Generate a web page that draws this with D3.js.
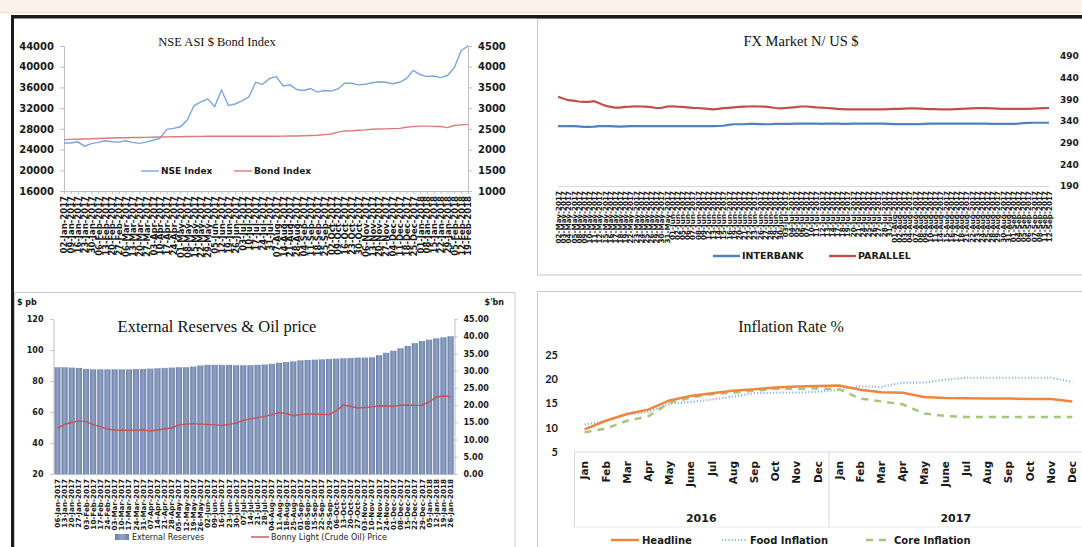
<!DOCTYPE html>
<html>
<head>
<meta charset="utf-8">
<script src="https://cdn.jsdelivr.net/npm/d3@7"></script>
<style>
  body { margin: 0; background: #fff; }
  svg { display: block; }
</style>
</head>
<body>
<svg id="page" width="1082" height="547"></svg>
<script>
// ---- NSE ASI & Bond index (weekly) ----
var nseDates = ("02-Jan-2017 09-Jan-2017 16-Jan-2017 23-Jan-2017 30-Jan-2017 06-Feb-2017 13-Feb-2017 20-Feb-2017 27-Feb-2017 " +
  "06-Mar-2017 13-Mar-2017 20-Mar-2017 27-Mar-2017 03-Apr-2017 10-Apr-2017 17-Apr-2017 24-Apr-2017 01-May-2017 08-May-2017 " +
  "15-May-2017 22-May-2017 29-May-2017 05-Jun-2017 12-Jun-2017 19-Jun-2017 26-Jun-2017 03-Jul-2017 10-Jul-2017 17-Jul-2017 " +
  "24-Jul-2017 31-Jul-2017 07-Aug-2017 14-Aug-2017 21-Aug-2017 28-Aug-2017 04-Sep-2017 11-Sep-2017 18-Sep-2017 25-Sep-2017 " +
  "02-Oct-2017 09-Oct-2017 16-Oct-2017 23-Oct-2017 30-Oct-2017 06-Nov-2017 13-Nov-2017 20-Nov-2017 27-Nov-2017 04-Dec-2017 " +
  "11-Dec-2017 18-Dec-2017 25-Dec-2017 01-Jan-2018 08-Jan-2018 15-Jan-2018 22-Jan-2018 29-Jan-2018 05-Feb-2018 12-Feb-2018 19-Feb-2018").split(" ");
var nseIndex = [25270, 25270, 25500, 24650, 25150, 25400, 25700, 25500, 25450, 25700,
  25400, 25200, 25450, 25800, 26150, 27900, 28100, 28400, 29700, 32500,
  33200, 33800, 32300, 35500, 32500, 32800, 33400, 34200, 37000, 36600,
  37700, 38100, 36300, 36500, 35600, 35400, 35800, 35100, 35400, 35300,
  35700, 36800, 36800, 36500, 36600, 36900, 37100, 37000, 36700, 37000,
  37700, 39300, 38500, 38100, 38200, 37900, 38300, 39800, 43100, 44000];
var bondIndex = [2241, 2245, 2250, 2256, 2262, 2268, 2275, 2280, 2284, 2287,
  2290, 2292, 2295, 2298, 2302, 2306, 2308, 2311, 2314, 2316,
  2318, 2322, 2322, 2322, 2322, 2322, 2322, 2322, 2322, 2322,
  2322, 2322, 2324, 2326, 2328, 2332, 2338, 2346, 2362, 2375,
  2420, 2450, 2455, 2465, 2475, 2490, 2495, 2500, 2505, 2512,
  2540, 2555, 2567, 2565, 2560, 2558, 2530, 2580, 2595, 2608];
var nseTicks = [16000, 20000, 24000, 28000, 32000, 36000, 40000, 44000];
var bondTicks = [1000, 1500, 2000, 2500, 3000, 3500, 4000, 4500];

// ---- FX market N/US$ (daily) ----
var fxDates = ("02-May-2017 03-May-2017 04-May-2017 05-May-2017 08-May-2017 09-May-2017 10-May-2017 11-May-2017 12-May-2017 " +
  "15-May-2017 16-May-2017 17-May-2017 18-May-2017 19-May-2017 22-May-2017 23-May-2017 24-May-2017 25-May-2017 26-May-2017 " +
  "29-May-2017 30-May-2017 31-May-2017 01-Jun-2017 02-Jun-2017 05-Jun-2017 06-Jun-2017 07-Jun-2017 08-Jun-2017 09-Jun-2017 " +
  "12-Jun-2017 13-Jun-2017 14-Jun-2017 15-Jun-2017 16-Jun-2017 19-Jun-2017 20-Jun-2017 21-Jun-2017 22-Jun-2017 23-Jun-2017 " +
  "26-Jun-2017 27-Jun-2017 28-Jun-2017 29-Jun-2017 30-Jun-2017 03-Jul-2017 04-Jul-2017 05-Jul-2017 06-Jul-2017 07-Jul-2017 " +
  "10-Jul-2017 11-Jul-2017 12-Jul-2017 13-Jul-2017 14-Jul-2017 17-Jul-2017 18-Jul-2017 19-Jul-2017 20-Jul-2017 21-Jul-2017 " +
  "24-Jul-2017 25-Jul-2017 26-Jul-2017 27-Jul-2017 28-Jul-2017 31-Jul-2017 01-Aug-2017 02-Aug-2017 03-Aug-2017 04-Aug-2017 " +
  "07-Aug-2017 08-Aug-2017 09-Aug-2017 10-Aug-2017 11-Aug-2017 14-Aug-2017 15-Aug-2017 16-Aug-2017 17-Aug-2017 18-Aug-2017 " +
  "21-Aug-2017 22-Aug-2017 23-Aug-2017 24-Aug-2017 25-Aug-2017 28-Aug-2017 29-Aug-2017 30-Aug-2017 31-Aug-2017 01-Sep-2017 " +
  "04-Sep-2017 05-Sep-2017 06-Sep-2017 07-Sep-2017 08-Sep-2017 11-Sep-2017 12-Sep-2017").split(" ");
var fxParallel = [396, 392, 388, 387, 385, 384, 384, 386, 381, 376,
  373, 371, 371, 372.5, 373, 374, 373.5, 373, 372, 370,
  370, 373, 374, 373, 372.5, 371.5, 370.5, 370, 369, 368,
  367, 368, 369.5, 370.5, 371.5, 372.5, 373, 373.5, 374, 373.5,
  373, 372, 370, 369, 370, 371, 372, 373.5, 373.5, 372.5,
  371.5, 371, 370, 369, 368, 367.5, 367, 367, 367, 367,
  367, 367, 367, 367, 367.5, 368, 368, 368.5, 369, 369,
  368.5, 368, 367.5, 367.5, 367, 367, 367, 367.5, 368, 368.5,
  369, 369.5, 369.5, 369.5, 369, 368.5, 368, 368, 368, 368,
  368, 368, 368.5, 369, 369.5, 370];
var fxInterbank = [328, 328, 328, 328, 327.5, 326.5, 326.5, 327, 328, 328,
  328, 327.5, 327, 327.5, 328, 328, 328, 328, 328, 328,
  328, 328, 328, 328, 328, 328, 328, 328, 328, 328,
  328, 328.5, 329, 331, 332.5, 332.5, 332.5, 333.5, 333.5, 333,
  332.5, 332.5, 333.5, 333.5, 333.5, 333.5, 334, 334, 334, 334,
  334, 333.5, 334, 334, 334, 333.5, 333.5, 334, 334, 334,
  334, 334, 334, 334, 333.5, 333, 332.6, 332.6, 332.6, 332.6,
  333, 333.5, 334, 334, 334, 334, 334, 334, 334, 334,
  334, 334, 334, 334, 333.5, 333.5, 333.5, 333.5, 333.5, 334,
  335, 335.5, 336, 336, 336, 336];
var fxTicks = [190, 240, 290, 340, 390, 440, 490];

// ---- External reserves & oil price (weekly) ----
var resDates = ("06-Jan-2017 13-Jan-2017 20-Jan-2017 27-Jan-2017 03-Feb-2017 10-Feb-2017 17-Feb-2017 24-Feb-2017 03-Mar-2017 " +
  "10-Mar-2017 17-Mar-2017 24-Mar-2017 31-Mar-2017 07-Apr-2017 14-Apr-2017 21-Apr-2017 28-Apr-2017 05-May-2017 12-May-2017 " +
  "19-May-2017 26-May-2017 02-Jun-2017 09-Jun-2017 16-Jun-2017 23-Jun-2017 30-Jun-2017 07-Jul-2017 14-Jul-2017 21-Jul-2017 " +
  "28-Jul-2017 04-Aug-2017 11-Aug-2017 18-Aug-2017 25-Aug-2017 01-Sep-2017 08-Sep-2017 15-Sep-2017 22-Sep-2017 29-Sep-2017 " +
  "06-Oct-2017 13-Oct-2017 20-Oct-2017 27-Oct-2017 03-Nov-2017 10-Nov-2017 17-Nov-2017 24-Nov-2017 01-Dec-2017 08-Dec-2017 " +
  "15-Dec-2017 22-Dec-2017 29-Dec-2017 05-Jan-2018 12-Jan-2018 19-Jan-2018 26-Jan-2018").split(" ");
var reserves = [31.0, 31.0, 30.9, 30.8, 30.5, 30.4, 30.4, 30.4, 30.4, 30.4,
  30.4, 30.5, 30.5, 30.6, 30.7, 30.8, 30.9, 31.0, 31.0, 31.2,
  31.5, 31.7, 31.7, 31.7, 31.7, 31.6, 31.6, 31.6, 31.7, 31.8,
  32.0, 32.3, 32.5, 32.7, 33.0, 33.1, 33.2, 33.3, 33.4, 33.5,
  33.6, 33.7, 33.8, 33.8, 33.9, 34.5, 35.2, 35.8, 36.5, 37.2,
  38.0, 38.6, 39.0, 39.4, 39.7, 40.0];
var oilPrice = [49.5, 52.1, 53.2, 54.3, 53.8, 51.8, 50.6, 49.0, 48.4, 48.2,
  48.2, 48.3, 48.5, 47.7, 48.4, 49.2, 49.7, 51.7, 52.2, 52.5,
  52.2, 52.0, 51.7, 51.3, 52.0, 52.8, 54.6, 55.6, 56.4, 57.2,
  58.3, 59.7, 59.0, 57.6, 58.3, 58.8, 58.7, 58.5, 58.3, 60.7,
  64.5, 63.7, 62.6, 62.9, 63.3, 64.0, 63.9, 63.7, 64.4, 64.5,
  64.3, 64.4, 66.5, 69.5, 70.3, 70.0];
var oilTicks = [20, 40, 60, 80, 100, 120];
var resTicks = [0, 5, 10, 15, 20, 25, 30, 35, 40, 45];

// ---- Inflation rate % (monthly) ----
var months = ["Jan", "Feb", "Mar", "Apr", "May", "June", "Jul", "Aug", "Sep", "Oct", "Nov", "Dec"];
var years = ["2016", "2017"];
var headline = [9.6, 11.4, 12.8, 13.7, 15.6, 16.5, 17.1, 17.6, 17.9, 18.3, 18.5, 18.6,
  18.7, 17.8, 17.3, 17.2, 16.3, 16.1, 16.05, 16.0, 16.0, 15.9, 15.9, 15.4];
var foodInfl = [10.6, 11.4, 12.7, 13.2, 14.9, 15.3, 15.8, 16.4, 17.1, 17.2, 17.2, 17.4,
  17.8, 18.5, 18.4, 19.3, 19.3, 19.9, 20.3, 20.3, 20.3, 20.3, 20.3, 19.4];
var coreInfl = [9.0, 9.8, 11.4, 12.3, 15.1, 16.2, 16.9, 17.2, 17.6, 18.0, 18.0, 18.1,
  17.9, 16.0, 15.4, 14.8, 12.9, 12.4, 12.2, 12.2, 12.2, 12.2, 12.2, 12.2];
var inflTicks = [5, 10, 15, 20, 25];

var SANS = "'DejaVu Sans', sans-serif",
    SERIF = "'Liberation Serif', 'Times New Roman', serif";

var svg = d3.select("#page");

// style a d3 axis group
function styleAxis(g, size, font, weight) {
    g.attr("font-family", font || SANS).attr("font-size", size);
    g.selectAll("text").attr("fill", "#1a1a1a").attr("font-weight", weight || "bold");
    g.selectAll("line").attr("stroke", "#bfbfbf");
    g.select(".domain").attr("stroke", "#bfbfbf");
    return g;
}

// dense rotated date labels under a category axis
function dateLabels(g, size, gap) {
    g.selectAll(".tick text")
        .attr("transform", "rotate(-90)")
        .attr("text-anchor", "end")
        .attr("x", -gap)
        .attr("y", 0)
        .attr("dy", "0.35em")
        .attr("font-size", size);
}

function legendLine(g, x, y, w, color, width, dash) {
    g.append("line").attr("x1", x).attr("x2", x + w).attr("y1", y).attr("y2", y)
        .attr("stroke", color).attr("stroke-width", width).attr("stroke-dasharray", dash || null);
}

function legendText(g, x, y, txt, size, weight) {
    g.append("text").attr("x", x).attr("y", y).attr("dy", "0.35em")
        .attr("font-family", SANS).attr("font-size", size).attr("font-weight", weight || "bold")
        .attr("fill", "#1a1a1a").text(txt);
}

// ---- page frame ----
svg.append("rect").attr("x", 0).attr("y", 0).attr("width", 1082).attr("height", 12).attr("fill", "#fdf2ea");
svg.append("line").attr("x1", 0).attr("x2", 1082).attr("y1", 12.5).attr("y2", 12.5).attr("stroke", "#f7dcc7");

[[537.5, 18.5, 560, 256.5], [14.5, 292.5, 500.5, 270], [537.5, 291.5, 560, 270]].forEach(function(p) {
    svg.append("rect").attr("x", p[0]).attr("y", p[1]).attr("width", p[2]).attr("height", p[3])
        .attr("fill", "#fff").attr("stroke", "#c9c9c9");
});
svg.append("rect").attr("x", 11).attr("y", 15).attr("width", 1071).attr("height", 3.5).attr("fill", "#1b1b1b");
svg.append("rect").attr("x", 11).attr("y", 15).attr("width", 3).attr("height", 532).attr("fill", "#1b1b1b");

// ================= chart 1: NSE ASI & Bond Index =================
var c1 = svg.append("g");
var x1 = d3.scalePoint().domain(nseDates).range([64, 468]),
    y1L = d3.scaleLinear().domain([16000, 44000]).range([191, 46]),
    y1R = d3.scaleLinear().domain([1000, 4500]).range([191, 46]);

styleAxis(c1.append("g").attr("transform", "translate(64,0)")
    .call(d3.axisLeft(y1L).tickValues(nseTicks).tickFormat(d3.format("d")).tickSize(4).tickPadding(6).tickSizeOuter(0)), 10);
styleAxis(c1.append("g").attr("transform", "translate(468,0)")
    .call(d3.axisRight(y1R).tickValues(bondTicks).tickFormat(d3.format("d")).tickSize(4).tickPadding(6).tickSizeOuter(0)), 10);
var ax1 = styleAxis(c1.append("g").attr("transform", "translate(0,191)")
    .call(d3.axisBottom(x1).tickSize(3).tickSizeOuter(0)), 8.5);
dateLabels(ax1, 8.5, 5);

c1.append("path").datum(nseIndex)
    .attr("fill", "none").attr("stroke", "#7ea6d8").attr("stroke-width", 1.4)
    .attr("d", d3.line().x(function(d, i) { return x1(nseDates[i]); }).y(function(d) { return y1L(d); }));
c1.append("path").datum(bondIndex)
    .attr("fill", "none").attr("stroke", "#dc7b7d").attr("stroke-width", 1.4)
    .attr("d", d3.line().x(function(d, i) { return x1(nseDates[i]); }).y(function(d) { return y1R(d); }));

c1.append("text").attr("x", 217).attr("y", 46).attr("text-anchor", "middle")
    .attr("font-family", SERIF).attr("font-size", 12.5).attr("fill", "#111").text("NSE ASI $ Bond Index");
legendLine(c1, 141, 171, 18, "#7ea6d8", 1.4);
legendText(c1, 161, 171, "NSE Index", 9);
legendLine(c1, 234, 171, 18, "#dc7b7d", 1.4);
legendText(c1, 254, 171, "Bond Index", 9);

// ================= chart 2: FX market =================
var c2 = svg.append("g");
var x2 = d3.scalePoint().domain(fxDates).range([558, 1049]),
    y2 = d3.scaleLinear().domain([190, 490]).range([186, 56]);

// right-hand labels sit against the page edge
var ax2r = styleAxis(c2.append("g").attr("transform", "translate(1060,0)")
    .call(d3.axisRight(y2).tickValues(fxTicks).tickSize(0).tickPadding(0)), 9);
ax2r.select(".domain").remove();
var ax2 = styleAxis(c2.append("g").attr("transform", "translate(0,186)")
    .call(d3.axisBottom(x2).tickSize(0).tickSizeOuter(0)), 7.2);
ax2.select(".domain").attr("stroke", "#d9d9d9");
dateLabels(ax2, 7.2, 5);

[[fxInterbank, "#4f81bd"], [fxParallel, "#c0504d"]].forEach(function(s) {
    c2.append("path").datum(s[0])
        .attr("fill", "none").attr("stroke", s[1]).attr("stroke-width", 2.2)
        .attr("d", d3.line().x(function(d, i) { return x2(fxDates[i]); }).y(function(d) { return y2(d); }));
});

c2.append("text").attr("x", 801).attr("y", 46).attr("text-anchor", "middle")
    .attr("font-family", SERIF).attr("font-size", 14.5).attr("fill", "#111").text("FX Market N/ US $");
legendLine(c2, 713, 256, 27, "#4f81bd", 2.4);
legendText(c2, 742, 256, "INTERBANK", 9.5);
legendLine(c2, 829, 256, 27, "#c0504d", 2.4);
legendText(c2, 858, 256, "PARALLEL", 9.5);

// ================= chart 3: External reserves & oil price =================
var c3 = svg.append("g");
var defs = svg.append("defs");
var grad = defs.append("linearGradient").attr("id", "barGrad").attr("x1", 0).attr("x2", 1).attr("y1", 0).attr("y2", 0);
grad.append("stop").attr("offset", "0%").attr("stop-color", "#6a7ea8");
grad.append("stop").attr("offset", "50%").attr("stop-color", "#93a4c5");
grad.append("stop").attr("offset", "100%").attr("stop-color", "#6a7ea8");

var x3 = d3.scaleBand().domain(resDates).range([54, 454]).paddingInner(0.14).paddingOuter(0.05),
    y3L = d3.scaleLinear().domain([20, 120]).range([474, 319]),
    y3R = d3.scaleLinear().domain([0, 45]).range([474, 319]);

c3.selectAll("rect.bar").data(reserves).enter().append("rect")
    .attr("class", "bar")
    .attr("x", function(d, i) { return x3(resDates[i]); })
    .attr("width", x3.bandwidth())
    .attr("y", function(d) { return y3R(d); })
    .attr("height", function(d) { return y3R(0) - y3R(d); })
    .attr("fill", "url(#barGrad)");

c3.append("path").datum(oilPrice)
    .attr("fill", "none").attr("stroke", "#c94f55").attr("stroke-width", 1.4)
    .attr("d", d3.line().x(function(d, i) { return x3(resDates[i]) + x3.bandwidth() / 2; })
        .y(function(d) { return y3L(d); }));

styleAxis(c3.append("g").attr("transform", "translate(53.5,0)")
    .call(d3.axisLeft(y3L).tickValues(oilTicks).tickSize(3).tickPadding(7).tickSizeOuter(0)), 8);
styleAxis(c3.append("g").attr("transform", "translate(454.5,0)")
    .call(d3.axisRight(y3R).tickValues(resTicks).tickFormat(d3.format(".2f")).tickSize(3).tickPadding(6).tickSizeOuter(0)), 8);
var ax3 = styleAxis(c3.append("g").attr("transform", "translate(0,474)")
    .call(d3.axisBottom(x3).tickSize(0).tickSizeOuter(0)), 7.2);
dateLabels(ax3, 7.2, 5);

c3.append("text").attr("x", 17).attr("y", 302).attr("dy", "0.35em")
    .attr("font-family", SANS).attr("font-size", 8).attr("font-weight", "bold").attr("fill", "#1a1a1a").text("$ pb");
c3.append("text").attr("x", 504).attr("y", 302).attr("dy", "0.35em").attr("text-anchor", "end")
    .attr("font-family", SANS).attr("font-size", 8).attr("font-weight", "bold").attr("fill", "#1a1a1a").text("$'bn");
c3.append("text").attr("x", 217).attr("y", 332).attr("text-anchor", "middle")
    .attr("font-family", SERIF).attr("font-size", 16.5).attr("fill", "#111").text("External Reserves & Oil price");

c3.append("rect").attr("x", 115).attr("y", 534).attr("width", 14).attr("height", 6).attr("fill", "url(#barGrad)");
legendText(c3, 132, 537, "External Reserves", 8, "normal");
legendLine(c3, 251, 537, 18, "#c94f55", 1.4);
legendText(c3, 271, 537, "Bonny Light (Crude Oil) Price", 8, "normal");

// ================= chart 4: Inflation rate =================
var c4 = svg.append("g");
var inflCats = [];
years.forEach(function(y) { months.forEach(function(m) { inflCats.push(m + " " + y); }); });

var x4 = d3.scaleBand().domain(inflCats).range([574, 1083]),
    y4 = d3.scaleLinear().domain([5, 25]).range([451.7, 355]);

var ax4l = styleAxis(c4.append("g").attr("transform", "translate(558,0)")
    .call(d3.axisLeft(y4).tickValues(inflTicks).tickSize(0).tickPadding(0)), 11, "Lato, sans-serif");
ax4l.select(".domain").remove();

// two-level category axis
c4.append("line").attr("x1", 574).attr("x2", 1082).attr("y1", 452).attr("y2", 452).attr("stroke", "#d9d9d9");
c4.append("line").attr("x1", 574).attr("x2", 1082).attr("y1", 527).attr("y2", 527).attr("stroke", "#ececec");
years.forEach(function(y, k) {
    var x0 = x4(months[0] + " " + y);
    c4.append("line").attr("x1", x0 + 0.5).attr("x2", x0 + 0.5).attr("y1", 452).attr("y2", 527).attr("stroke", "#d9d9d9");
    c4.append("text").attr("x", x0 + x4.step() * 6).attr("y", 518).attr("dy", "0.35em").attr("text-anchor", "middle")
        .attr("font-family", SANS).attr("font-size", 11).attr("font-weight", "bold").attr("fill", "#1a1a1a").text(y);
});
c4.selectAll("text.month").data(inflCats).enter().append("text")
    .attr("class", "month")
    .attr("transform", function(d) { return "translate(" + (x4(d) + x4.bandwidth() / 2) + ",461) rotate(-90)"; })
    .attr("text-anchor", "end").attr("dy", "0.35em")
    .attr("font-family", SANS).attr("font-size", 10.5).attr("font-weight", "bold").attr("fill", "#1a1a1a")
    .text(function(d) { return d.split(" ")[0]; });

var line4 = d3.line().x(function(d, i) { return x4(inflCats[i]) + x4.bandwidth() / 2; }).y(function(d) { return y4(d); });
c4.append("path").datum(foodInfl).attr("fill", "none").attr("stroke", "#8fb6e6")
    .attr("stroke-width", 2.2).attr("stroke-dasharray", "1.2,2").attr("d", line4);
c4.append("path").datum(coreInfl).attr("fill", "none").attr("stroke", "#a3c77c")
    .attr("stroke-width", 2.5).attr("stroke-dasharray", "7,6").attr("d", line4);
c4.append("path").datum(headline).attr("fill", "none").attr("stroke", "#ee8640")
    .attr("stroke-width", 2.5).attr("d", line4);

c4.append("text").attr("x", 791).attr("y", 332).attr("text-anchor", "middle")
    .attr("font-family", SERIF).attr("font-size", 16).attr("fill", "#111").text("Inflation Rate %");
legendLine(c4, 611, 540, 28, "#ee8640", 2.5);
legendText(c4, 642, 540, "Headline", 10);
legendLine(c4, 722, 540, 25, "#8fb6e6", 2.2, "1.2,2");
legendText(c4, 750, 540, "Food Inflation", 10);
legendLine(c4, 866, 540, 25, "#a3c77c", 2.5, "7,6");
legendText(c4, 894, 540, "Core Inflation", 10);
</script>
</body>
</html>
